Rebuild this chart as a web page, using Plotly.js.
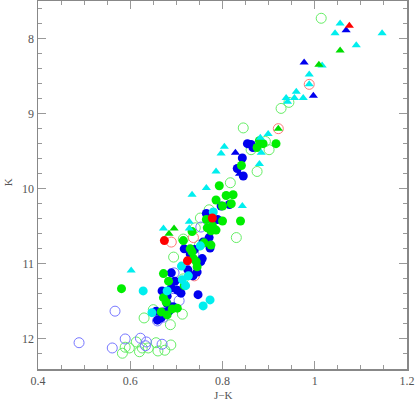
<!DOCTYPE html>
<html><head><meta charset="utf-8">
<script src="https://cdn.plot.ly/plotly-3.0.1.min.js"></script>
<style>body{margin:0;background:#fff}#c{width:416px;height:400px}</style>
</head><body><div id="c"></div>
<script>
// J-K colour and K magnitude per group
const cyanTriJK = [1.055,1.044,1.146,1.090,1.016,0.988,0.988,0.960,0.938,0.956,0.975,0.941,0.899,0.882,0.804,0.797,0.884,0.880,0.786,0.765,0.734,0.843,0.728,0.728,0.672,0.602];
const cyanTriK  = [7.80,7.93,7.93,8.09,8.36,8.48,8.61,8.71,8.79,8.79,8.79,8.84,9.27,9.32,9.44,9.53,9.52,9.67,9.77,9.99,10.08,10.23,10.44,10.53,10.53,11.09];
const blueTriJK = [1.068,0.977,0.997,0.828,0.837];
const blueTriK  = [7.89,8.32,8.76,9.52,9.80];
const greenTriJK = [1.055,1.009,0.921,0.695,0.684];
const greenTriK  = [8.16,8.35,9.20,10.53,10.60];
const redTriJK = [1.075];
const redTriK  = [7.83];
const redDotJK = [0.778,0.674,0.724];
const redDotK  = [10.39,10.69,10.96];
const redOpenJK = [0.988,0.921,0.737,0.689,0.739];
const redOpenK  = [8.61,9.20,10.65,10.71,11.16];
const greenOpenJK = [1.014,0.927,0.944,0.845,0.893,0.901,0.862,0.875,0.817,0.771,0.752,0.741,0.715,0.830,0.750,0.694,0.715,0.713,0.650,0.630,0.687,0.583,0.589,0.598,0.613,0.620,0.626,0.639,0.656,0.660,0.675,0.688];
const greenOpenK  = [7.73,8.93,8.85,9.19,9.37,9.48,9.48,9.77,9.92,10.28,10.39,10.52,10.67,10.65,10.75,10.91,11.20,11.67,11.61,11.72,11.81,12.19,12.11,12.12,12.04,12.17,12.12,12.12,12.05,12.16,12.15,12.08];
const blueOpenJK = [0.567,0.489,0.561,0.589,0.622,0.635,0.633,0.669,0.659,0.672,0.693,0.695,0.738,0.753,0.706];
const blueOpenK  = [11.63,12.05,12.12,12.00,11.99,12.04,12.09,12.07,11.76,11.71,11.33,11.12,10.87,10.51,11.49];
const blueDotJK = [0.854,0.862,0.866,0.843,0.832,0.845,0.797,0.815,0.765,0.789,0.771,0.758,0.717,0.730,0.756,0.739,0.773,0.753,0.725,0.745,0.689,0.736,0.697,0.689,0.702,0.669,0.710,0.747,0.680,0.680,0.693,0.684,0.672,0.656,0.667,0.659];
const blueDotK  = [9.40,9.41,9.45,9.59,9.73,9.83,10.23,10.21,10.33,10.41,10.65,10.71,10.80,10.87,10.93,10.81,10.79,10.97,11.08,11.11,11.12,11.16,11.23,11.32,11.35,11.36,11.39,11.41,11.43,11.53,11.57,11.63,11.64,11.63,11.72,11.75];
const greenDotJK = [0.880,0.875,0.888,0.916,0.841,0.793,0.808,0.823,0.786,0.800,0.819,0.765,0.800,0.839,0.767,0.778,0.786,0.775,0.734,0.760,0.775,0.734,0.737,0.715,0.730,0.743,0.745,0.672,0.683,0.717,0.672,0.678,0.702,0.691,0.667,0.680,0.581];
const greenDotK  = [9.36,9.45,9.40,9.40,9.69,9.96,10.09,10.08,10.15,10.23,10.20,10.41,10.43,10.43,10.52,10.49,10.55,10.56,10.57,10.72,10.75,10.84,10.93,10.69,10.80,10.97,11.04,11.13,11.23,11.29,11.45,11.51,11.59,11.60,11.64,11.68,11.33];
const cyanDotJK = [0.780,0.752,0.711,0.713,0.720,0.726,0.628,0.680,0.773,0.758,0.647];
const cyanDotK  = [10.31,10.76,11.03,11.21,11.29,11.16,11.36,11.36,11.48,11.56,11.65];

const xTicks = [0.4,0.6,0.8,1,1.2];
const yTicks = [8,9,10,11,12];
const xTitle = 'J\u2212K';
const yTitle = 'K';

function open(x,y,c){return {x:x,y:y,type:'scatter',mode:'markers',hoverinfo:'skip',
  marker:{symbol:'circle-open',size:10,color:c,line:{width:1,color:c}}};}
function dot(x,y,c){return {x:x,y:y,type:'scatter',mode:'markers',hoverinfo:'skip',
  marker:{symbol:'circle',size:9,color:c,line:{width:0}}};}
function tri(x,y,c){return {x:x,y:y,type:'scatter',mode:'markers',hoverinfo:'skip',
  marker:{symbol:'triangle-up',size:8,color:c,line:{width:0}}};}

const data = [
  open(greenOpenJK,greenOpenK,'#66ee66'),
  open(blueOpenJK,blueOpenK,'#7777ff'),
  open(redOpenJK,redOpenK,'#ff7777'),
  dot(blueDotJK,blueDotK,'#0000ee'),
  dot(greenDotJK,greenDotK,'#00ee00'),
  dot(cyanDotJK,cyanDotK,'#00eeee'),
  dot(redDotJK,redDotK,'#ff0000'),
  tri(cyanTriJK,cyanTriK,'#00eeee'),
  tri(blueTriJK,blueTriK,'#0000ee'),
  tri(greenTriJK,greenTriK,'#00dd00'),
  tri(redTriJK,redTriK,'#ff0000')
];

const axFont = {family:'"Liberation Serif","DejaVu Serif",serif',size:12,color:'#555'};
const titleFont = {family:'"Liberation Serif","DejaVu Serif",serif',size:11,color:'#555'};
const layout = {
  width:416,height:400,showlegend:false,
  paper_bgcolor:'#fff',plot_bgcolor:'#fff',
  margin:{l:38,r:9,t:1,b:31},
  xaxis:{range:[0.4,1.2],tickvals:xTicks,ticktext:xTicks.map(String),
    ticks:'inside',ticklen:8,tickwidth:1,tickcolor:'#999',
    minor:{dtick:0.05,tick0:0.4,ticks:'inside',ticklen:4,tickcolor:'#999',showgrid:false},
    showline:true,linecolor:'#888',linewidth:1.5,mirror:'allticks',
    showgrid:false,zeroline:false,tickfont:axFont},
  yaxis:{range:[12.4,7.5],tickvals:yTicks,ticktext:yTicks.map(String),
    ticks:'inside',ticklen:8,tickwidth:1,tickcolor:'#999',
    minor:{dtick:0.2,tick0:8,ticks:'inside',ticklen:4,tickcolor:'#999',showgrid:false},
    showline:true,linecolor:'#888',linewidth:1.5,mirror:'allticks',
    showgrid:false,zeroline:false,tickfont:axFont},
  annotations:[
    {text:xTitle,xref:'paper',yref:'paper',x:0.5,y:-0.071,xanchor:'center',yanchor:'middle',showarrow:false,font:titleFont},
    {text:yTitle,xref:'paper',yref:'paper',x:-0.079,y:0.507,xanchor:'center',yanchor:'middle',textangle:-90,showarrow:false,font:titleFont}
  ]
};
Plotly.newPlot('c',data,layout,{displayModeBar:false,staticPlot:true});
</script></body></html>
